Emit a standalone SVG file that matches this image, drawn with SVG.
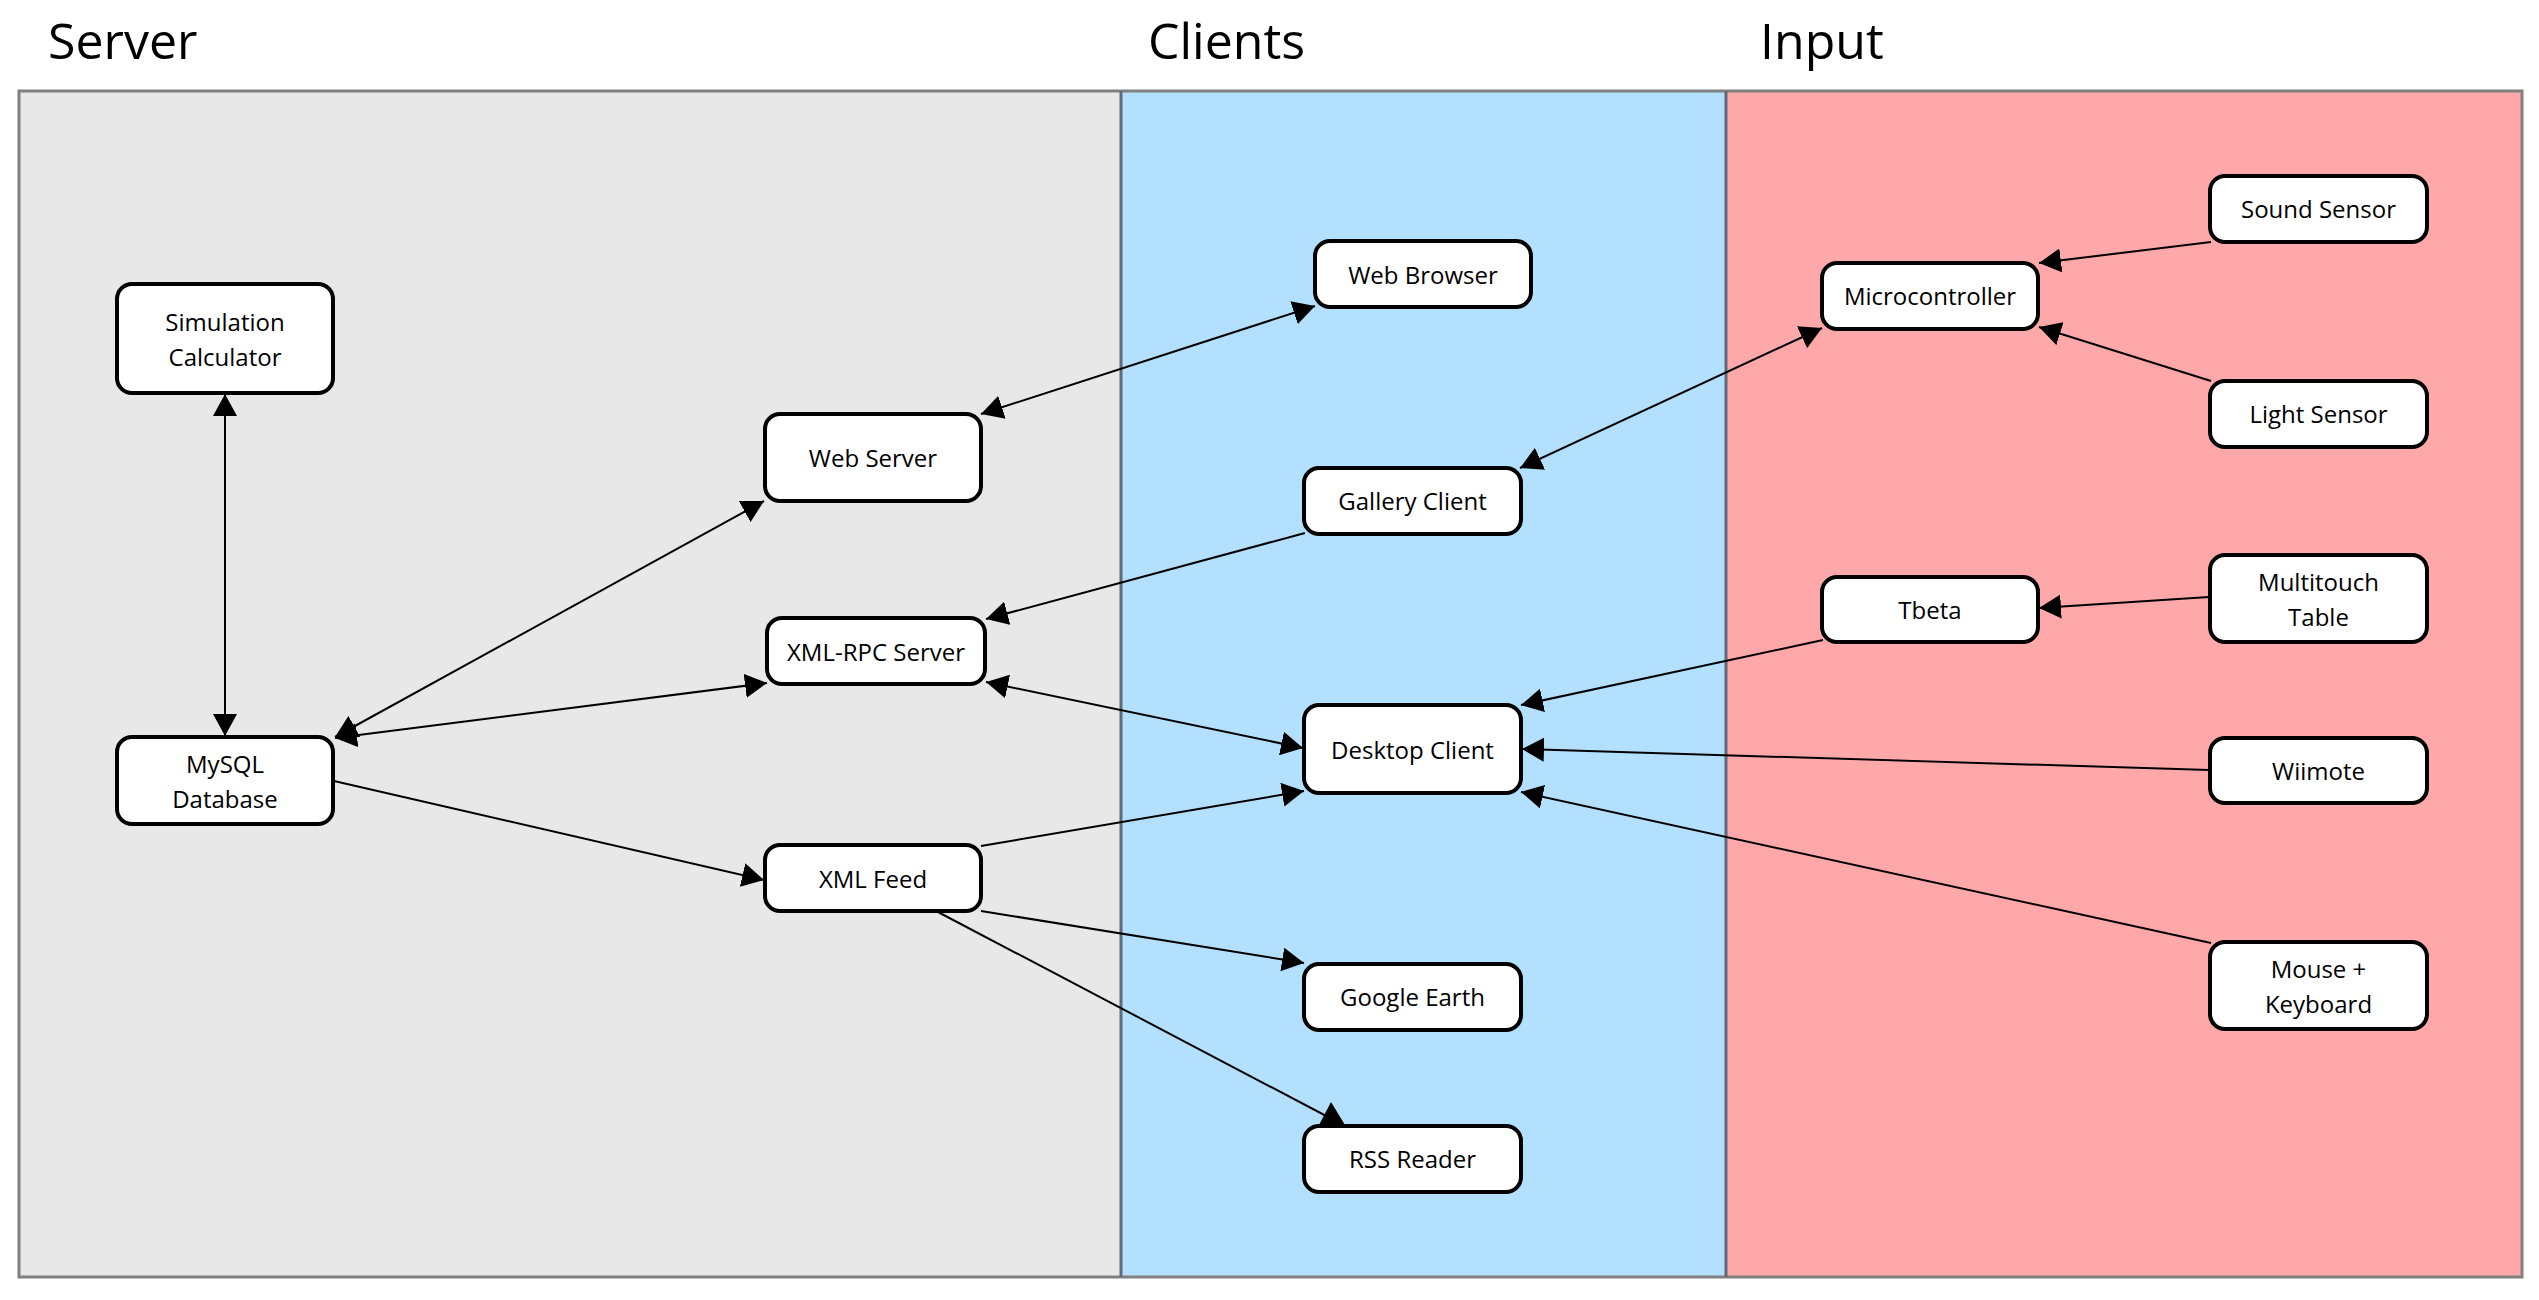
<svg xmlns="http://www.w3.org/2000/svg" width="2539" height="1300" viewBox="0 0 2539 1300">
<style>
.title{font-family:"Open Sans","Noto Sans",sans-serif;font-size:50px;fill:#000}
.node rect{fill:#fff;stroke:#000;stroke-width:4}
.node text{font-family:"Open Sans","Noto Sans",sans-serif;font-size:24px;fill:#000;text-anchor:middle}
.edge{stroke:#000;stroke-width:2;fill:none}
.one{marker-end:url(#arr)}
.two{marker-start:url(#arr);marker-end:url(#arr)}
</style>
<defs>
<marker id="arr" viewBox="0 0 22 24" refX="22" refY="12" markerWidth="22" markerHeight="24" markerUnits="userSpaceOnUse" orient="auto-start-reverse">
<path d="M0,0 L22,12 L0,24 Z" fill="#000"/>
</marker>
</defs>
<rect width="2539" height="1300" fill="#fff"/>
<g id="panels">
<rect x="19" y="91" width="1102" height="1186" fill="#e8e8e8"/>
<rect x="1121" y="91" width="605" height="1186" fill="#b3e0fe"/>
<rect x="1726" y="91" width="796" height="1186" fill="#ffa8aa"/>
<rect x="19" y="91" width="2503" height="1186" fill="none" stroke="#808080" stroke-width="3"/>
<line x1="1121" y1="91" x2="1121" y2="1277" stroke="#5f6b78" stroke-width="3"/>
<line x1="1726" y1="91" x2="1726" y2="1277" stroke="#5f6b78" stroke-width="3"/>
<text class="title" x="48" y="59">Server</text>
<text class="title" x="1148" y="59">Clients</text>
<text class="title" x="1760" y="59">Input</text>
</g>
<g id="n-sim" class="node"><rect x="117" y="284" width="216" height="109" rx="15"/><text x="225" y="331">Simulation</text><text x="225" y="366">Calculator</text></g>
<g id="n-mysql" class="node"><rect x="117" y="737" width="216" height="87" rx="15"/><text x="225" y="773">MySQL</text><text x="225" y="808">Database</text></g>
<g id="n-webserver" class="node"><rect x="765" y="414" width="216" height="87" rx="15"/><text x="873" y="467">Web Server</text></g>
<g id="n-xmlrpc" class="node"><rect x="767" y="618" width="218" height="66" rx="15"/><text x="876" y="661">XML-RPC Server</text></g>
<g id="n-xmlfeed" class="node"><rect x="765" y="845" width="216" height="66" rx="15"/><text x="873" y="888">XML Feed</text></g>
<g id="n-webbrowser" class="node"><rect x="1315" y="241" width="216" height="66" rx="15"/><text x="1423" y="284">Web Browser</text></g>
<g id="n-gallery" class="node"><rect x="1304" y="468" width="217" height="66" rx="15"/><text x="1412.5" y="510">Gallery Client</text></g>
<g id="n-desktop" class="node"><rect x="1304" y="705" width="217" height="88" rx="15"/><text x="1412.5" y="759">Desktop Client</text></g>
<g id="n-google" class="node"><rect x="1304" y="964" width="217" height="66" rx="15"/><text x="1412.5" y="1006">Google Earth</text></g>
<g id="n-rss" class="node"><rect x="1304" y="1126" width="217" height="66" rx="15"/><text x="1412.5" y="1168">RSS Reader</text></g>
<g id="n-micro" class="node"><rect x="1822" y="263" width="216" height="66" rx="15"/><text x="1930" y="305">Microcontroller</text></g>
<g id="n-tbeta" class="node"><rect x="1822" y="577" width="216" height="65" rx="15"/><text x="1930" y="619">Tbeta</text></g>
<g id="n-sound" class="node"><rect x="2210" y="176" width="217" height="66" rx="15"/><text x="2318.5" y="218">Sound Sensor</text></g>
<g id="n-light" class="node"><rect x="2210" y="381" width="217" height="66" rx="15"/><text x="2318.5" y="423">Light Sensor</text></g>
<g id="n-multi" class="node"><rect x="2210" y="555" width="217" height="87" rx="15"/><text x="2318.5" y="591">Multitouch</text><text x="2318.5" y="626">Table</text></g>
<g id="n-wii" class="node"><rect x="2210" y="738" width="217" height="65" rx="15"/><text x="2318.5" y="780">Wiimote</text></g>
<g id="n-mouse" class="node"><rect x="2210" y="942" width="217" height="87" rx="15"/><text x="2318.5" y="978">Mouse +</text><text x="2318.5" y="1013">Keyboard</text></g>
<g id="connectors">
<line class="edge two" x1="225" y1="394" x2="225" y2="736"/>
<line class="edge two" x1="335" y1="737" x2="764" y2="501"/>
<line class="edge two" x1="335" y1="738" x2="767" y2="683"/>
<line class="edge one" x1="334" y1="781" x2="764" y2="880"/>
<line class="edge two" x1="981" y1="414" x2="1315" y2="306"/>
<line class="edge one" x1="1305" y1="533" x2="986" y2="619"/>
<line class="edge two" x1="986" y1="682" x2="1303" y2="748"/>
<line class="edge one" x1="981" y1="846" x2="1304" y2="791"/>
<line class="edge one" x1="981" y1="911" x2="1304" y2="963"/>
<line class="edge" x1="938" y1="912" x2="1330" y2="1118"/>
<polygon points="1319,1125 1331,1102 1345,1125" fill="#000"/>
<line class="edge two" x1="1520" y1="468" x2="1822" y2="328"/>
<line class="edge one" x1="2211" y1="242" x2="2039" y2="263"/>
<line class="edge one" x1="2211" y1="381" x2="2039" y2="327"/>
<line class="edge one" x1="2209" y1="597" x2="2039" y2="608"/>
<line class="edge one" x1="1823" y1="640" x2="1521" y2="705"/>
<line class="edge one" x1="2209" y1="770" x2="1522" y2="749"/>
<line class="edge one" x1="2211" y1="943" x2="1521" y2="792"/>
</g>
</svg>
